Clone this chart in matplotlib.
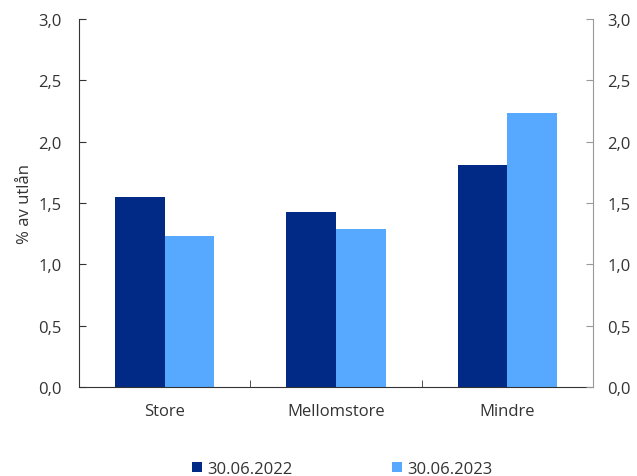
import matplotlib
matplotlib.use("Agg")
import matplotlib.pyplot as plt
import numpy as np

categories = ["Store", "Mellomstore", "Mindre"]
series_names = ["30.06.2022", "30.06.2023"]
values_2022 = [1.55, 1.43, 1.81]
values_2023 = [1.23, 1.29, 2.235]
yticks = [0.0, 0.5, 1.0, 1.5, 2.0, 2.5, 3.0]
colors = ["#002A85", "#56A9FF"]

plt.rcParams['font.family'] = ['Open Sans', 'DejaVu Sans']
FS = 12
TXT = "#333333"

fig = plt.figure(figsize=(6.37, 4.77), dpi=100)
ax = fig.add_axes([79/637, 1-388/477, (593-79)/637, (388-20)/477])

x = np.arange(len(categories))
w = 0.29
ax.bar(x - w/2, values_2022, w, color=colors[0], label=series_names[0], linewidth=0)
ax.bar(x + w/2, values_2023, w, color=colors[1], label=series_names[1], linewidth=0)

ax.set_xlim(-0.5, len(categories) - 0.5)
ax.set_ylim(0, 3.0)
ax.set_xticks(x)
ax.set_xticklabels(categories, fontsize=FS, color=TXT)
ax.set_xticks([0.5, 1.5], minor=True)
ax.tick_params(axis='x', which='major', length=0, pad=11.5)
ax.tick_params(axis='x', which='minor', length=5, direction='in', color=TXT)

labels = [f"{v:.1f}".replace('.', ',') for v in yticks]
ax.set_yticks(yticks)
ax.set_yticklabels(labels, fontsize=FS, color=TXT)
ax.tick_params(axis='y', which='major', length=5, direction='in', pad=12.5, color=TXT)
ax.set_ylabel("% av utlån", fontsize=FS, color=TXT, labelpad=4)

ax2 = ax.twinx()
ax2.set_ylim(0, 3.0)
ax2.set_yticks(yticks)
ax2.set_yticklabels(labels, fontsize=FS, color=TXT)
ax2.tick_params(axis='y', length=5, direction='in', pad=10.3, color='#999999')

for a in (ax, ax2):
    a.spines['top'].set_visible(False)
ax.spines['right'].set_visible(False)
ax2.spines['left'].set_visible(False)
ax2.spines['bottom'].set_visible(False)
ax2.spines['right'].set_color('#999999')
ax.spines['left'].set_color(TXT)
ax.spines['bottom'].set_color(TXT)

handles, hl = ax.get_legend_handles_labels()
leg = fig.legend(handles, hl, loc='center', bbox_to_anchor=(342/637, 1-470/477), ncol=2,
                 frameon=False, fontsize=FS, handlelength=0.6, handleheight=0.6,
                 handletextpad=0.3, columnspacing=6.0, borderpad=0, borderaxespad=0)
for t in leg.get_texts():
    t.set_color(TXT)

fig.savefig("out.png", dpi=100)
